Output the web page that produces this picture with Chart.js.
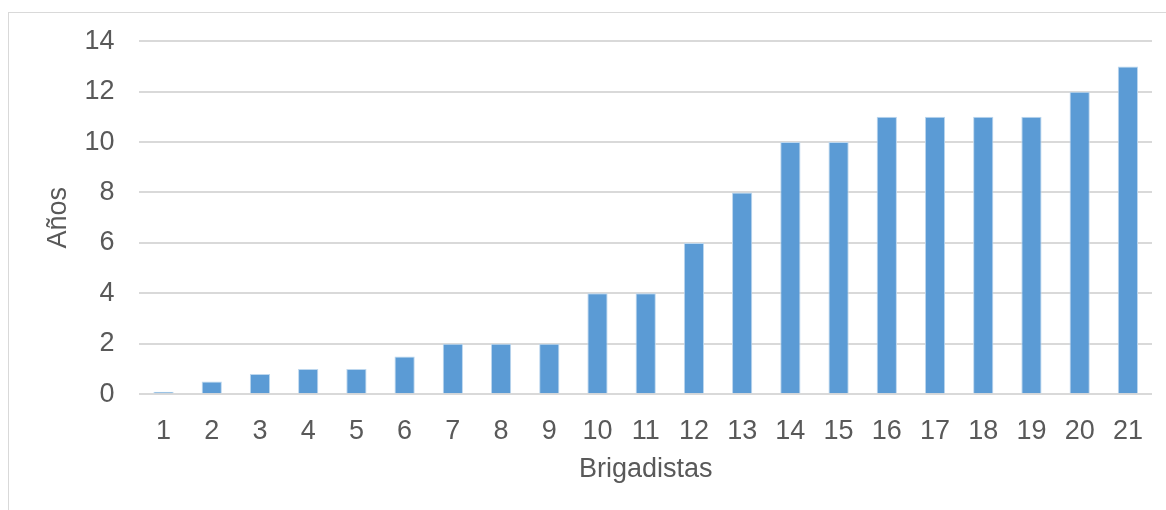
<!DOCTYPE html>
<html>
<head>
<meta charset="utf-8">
<script src="https://cdn.jsdelivr.net/npm/chart.js@4/dist/chart.umd.min.js"></script>
<style>
  html, body { margin: 0; padding: 0; background: #fff; overflow: hidden; }
  #frame { position: absolute; left: 8px; top: 12px; width: 1200px; height: 600px; border: 1px solid #d9d9d9; box-sizing: border-box; }
  #wrap { position: absolute; left: 0; top: 0; width: 1166px; height: 510px; }
</style>
</head>
<body>
<div id="frame"></div>
<div id="wrap"><canvas id="c" width="1166" height="510"></canvas></div>
<script>
const categories = ['1','2','3','4','5','6','7','8','9','10','11','12','13','14','15','16','17','18','19','20','21'];
const years = [0.1, 0.5, 0.8, 1, 1, 1.5, 2, 2, 2, 4, 4, 6, 8, 10, 10, 11, 11, 11, 11, 12, 13];
const yTicks = [0, 2, 4, 6, 8, 10, 12, 14];

const font = { family: "'Liberation Sans', Arial, sans-serif", size: 27 };
const textColor = '#595959';

new Chart(document.getElementById('c'), {
  type: 'bar',
  data: {
    labels: categories,
    datasets: [{
      data: years,
      backgroundColor: '#5b9bd5',
      borderColor: '#bdd7ee',
      borderWidth: 1,
      categoryPercentage: 1,
      barPercentage: 0.42
    }]
  },
  options: {
    responsive: false,
    animation: false,
    layout: { padding: { left: 38, right: 14, top: 29, bottom: 20 } },
    plugins: { legend: { display: false }, tooltip: { enabled: false } },
    scales: {
      x: {
        grid: { display: false },
        border: { display: false },
        ticks: { color: textColor, font: font, padding: 13, maxRotation: 0, autoSkip: false },
        title: { display: true, text: 'Brigadistas', color: textColor, font: font, padding: { top: -7 } }
      },
      y: {
        min: 0,
        max: 14,
        afterBuildTicks: (axis) => { axis.ticks = yTicks.map(v => ({ value: v })); },
        grid: { color: '#d9d9d9', lineWidth: 2, drawTicks: false },
        border: { display: false },
        ticks: { color: textColor, font: font, padding: 25 },
        title: { display: true, text: 'Años', color: textColor, font: font, padding: { top: 4, bottom: -15 } }
      }
    }
  }
});
</script>
</body>
</html>
